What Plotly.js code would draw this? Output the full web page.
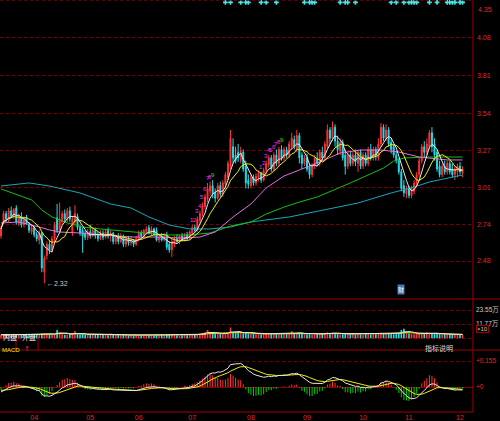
<!DOCTYPE html>
<html><head><meta charset="utf-8">
<script src="https://cdn.plot.ly/plotly-3.0.1.min.js"></script>
<style>html,body{margin:0;padding:0;background:#000;}#chart{width:500px;height:421px;}</style>
</head><body><div id="chart"></div>
<script>
// ---- daily OHLC ----
const opens = [
2.66,2.76,2.82,2.77,2.84,2.80,2.86,2.75,2.80,2.74,
2.79,2.74,2.69,2.72,2.67,2.63,2.68,2.40,2.52,2.60,
2.56,2.64,2.79,2.70,2.76,2.82,2.78,2.84,2.68,2.76,
2.80,2.72,2.70,2.68,2.65,2.69,2.66,2.70,2.67,2.64,
2.68,2.65,2.70,2.66,2.68,2.62,2.66,2.62,2.66,2.60,
2.64,2.61,2.63,2.60,2.64,2.68,2.66,2.69,2.72,2.68,
2.71,2.70,2.63,2.66,2.63,2.67,2.60,2.56,2.60,2.64,
2.62,2.66,2.63,2.67,2.64,2.68,2.72,2.70,2.77,2.82,
2.87,2.92,2.98,3.02,2.97,2.93,3.02,2.96,3.03,3.08,
3.16,3.30,3.24,3.26,3.20,3.26,3.16,3.06,3.02,3.08,
3.04,3.08,3.11,3.06,3.13,3.17,3.22,3.14,3.24,3.18,
3.28,3.22,3.28,3.24,3.30,3.35,3.28,3.38,3.24,3.18,
3.22,3.16,3.10,3.16,3.22,3.18,3.26,3.22,3.30,3.42,
3.36,3.44,3.34,3.27,3.33,3.24,3.16,3.24,3.18,3.24,
3.18,3.26,3.16,3.24,3.18,3.28,3.22,3.28,3.22,3.32,
3.44,3.36,3.42,3.33,3.30,3.24,3.20,3.12,3.02,2.96,
3.00,2.95,2.98,3.04,3.10,3.20,3.30,3.26,3.30,3.40,
3.32,3.26,3.16,3.10,3.16,3.12,3.18,3.14,3.10,3.12,
3.16,3.11];
const highs = [
2.73,2.84,2.84,2.86,2.87,2.86,2.88,2.82,2.83,2.80,
2.81,2.76,2.74,2.73,2.69,2.70,2.69,2.52,2.62,2.63,
2.66,2.76,2.89,2.90,2.84,2.85,2.86,2.87,2.80,2.88,
2.82,2.74,2.72,2.70,2.71,2.74,2.72,2.72,2.69,2.70,
2.70,2.71,2.72,2.70,2.69,2.67,2.68,2.68,2.67,2.66,
2.66,2.66,2.64,2.66,2.70,2.70,2.71,2.73,2.74,2.73,
2.72,2.72,2.67,2.68,2.68,2.69,2.62,2.64,2.66,2.67,
2.67,2.68,2.68,2.69,2.70,2.74,2.74,2.80,2.84,2.90,
2.96,3.04,3.05,3.06,3.00,3.04,3.05,3.06,3.12,3.20,
3.42,3.36,3.30,3.32,3.30,3.28,3.20,3.10,3.10,3.10,
3.11,3.13,3.12,3.15,3.20,3.24,3.24,3.26,3.28,3.30,
3.31,3.30,3.30,3.34,3.40,3.38,3.42,3.40,3.26,3.24,
3.25,3.18,3.18,3.24,3.26,3.28,3.30,3.34,3.46,3.44,
3.48,3.46,3.38,3.36,3.35,3.28,3.26,3.27,3.26,3.28,
3.28,3.28,3.26,3.26,3.30,3.32,3.30,3.30,3.36,3.47,
3.46,3.46,3.44,3.36,3.32,3.27,3.22,3.14,3.06,3.02,
3.02,3.02,3.06,3.12,3.22,3.32,3.34,3.36,3.42,3.44,
3.36,3.28,3.20,3.18,3.20,3.20,3.20,3.18,3.16,3.18,
3.19,3.16];
const lows = [
2.64,2.74,2.76,2.76,2.79,2.78,2.74,2.73,2.72,2.72,
2.74,2.68,2.67,2.65,2.62,2.60,2.40,2.32,2.49,2.53,
2.54,2.62,2.68,2.68,2.74,2.76,2.76,2.76,2.66,2.74,
2.70,2.66,2.54,2.63,2.63,2.64,2.65,2.64,2.62,2.63,
2.63,2.64,2.64,2.62,2.60,2.60,2.60,2.61,2.58,2.58,
2.59,2.59,2.58,2.59,2.62,2.64,2.65,2.67,2.67,2.66,
2.66,2.62,2.61,2.62,2.62,2.56,2.54,2.51,2.58,2.61,
2.60,2.62,2.62,2.63,2.63,2.66,2.68,2.69,2.75,2.80,
2.85,2.90,2.95,2.93,2.90,2.92,2.94,2.94,3.00,3.06,
3.14,3.18,3.18,3.19,3.18,3.12,3.00,3.00,3.00,3.02,
3.02,3.05,3.04,3.05,3.10,3.15,3.12,3.12,3.16,3.16,
3.20,3.20,3.22,3.22,3.28,3.28,3.26,3.18,3.14,3.16,
3.12,3.07,3.08,3.14,3.16,3.16,3.20,3.20,3.28,3.32,
3.34,3.30,3.24,3.24,3.20,3.10,3.14,3.16,3.16,3.16,
3.12,3.14,3.14,3.16,3.16,3.20,3.20,3.20,3.20,3.30,
3.34,3.34,3.30,3.25,3.22,3.18,3.10,2.98,2.94,2.93,
2.93,2.93,2.96,3.02,3.08,3.18,3.22,3.24,3.28,3.26,
3.20,3.12,3.08,3.08,3.10,3.10,3.10,3.08,3.06,3.08,
3.10,3.08];
const closes = [
2.71,2.82,2.78,2.84,2.80,2.85,2.76,2.80,2.74,2.78,
2.75,2.70,2.72,2.67,2.64,2.68,2.43,2.50,2.60,2.56,
2.64,2.74,2.70,2.78,2.82,2.78,2.84,2.78,2.78,2.82,
2.72,2.68,2.66,2.65,2.69,2.66,2.70,2.66,2.64,2.68,
2.65,2.69,2.66,2.68,2.62,2.65,2.62,2.66,2.60,2.64,
2.61,2.63,2.60,2.64,2.68,2.66,2.70,2.71,2.68,2.71,
2.67,2.63,2.65,2.63,2.66,2.58,2.56,2.62,2.64,2.62,
2.66,2.63,2.67,2.64,2.69,2.72,2.70,2.78,2.82,2.88,
2.94,3.00,3.02,2.96,2.93,3.02,2.96,3.04,3.10,3.18,
3.36,3.22,3.20,3.22,3.27,3.14,3.04,3.03,3.08,3.04,
3.09,3.11,3.06,3.13,3.18,3.22,3.14,3.24,3.18,3.28,
3.22,3.28,3.24,3.32,3.36,3.30,3.38,3.22,3.18,3.22,
3.14,3.10,3.16,3.22,3.18,3.26,3.22,3.32,3.42,3.36,
3.44,3.34,3.28,3.33,3.22,3.16,3.24,3.18,3.24,3.19,
3.26,3.16,3.24,3.18,3.28,3.22,3.28,3.24,3.32,3.44,
3.36,3.42,3.32,3.28,3.24,3.20,3.12,3.00,2.97,3.00,
2.95,3.00,3.04,3.10,3.20,3.30,3.26,3.32,3.40,3.30,
3.24,3.14,3.10,3.16,3.12,3.18,3.12,3.10,3.14,3.16,
3.12,3.14];
// volume in 万
const volumes = [
3.0,3.4,2.8,3.2,2.6,3.0,3.6,3.2,2.8,3.0,2.6,3.2,3.4,3.0,3.6,3.2,
4.0,4.2,3.8,3.4,3.0,3.6,7.0,5.0,
3.4,3.0,3.2,3.6,4.0,6.0,3.4,3.2,
3.6,3.2,3.0,2.8,3.4,3.0,2.8,3.2,3.6,3.0,2.6,4.0,3.2,2.8,3.0,2.6,
2.8,3.0,2.6,2.8,2.6,3.0,2.8,2.6,3.2,2.8,2.6,3.0,2.4,2.8,2.6,2.8,
2.6,3.0,2.8,3.2,2.8,2.6,2.4,2.6,2.8,2.6,3.0,3.2,2.8,3.6,4.0,4.4,
5.0,7.0,4.6,4.0,3.6,4.2,3.8,4.0,4.4,4.6,9.0,5.2,4.8,4.4,4.6,4.2,
4.8,4.0,3.6,3.8,3.4,3.6,3.4,3.8,4.0,4.2,3.6,4.0,3.8,4.2,3.6,4.0,
3.6,4.4,6.0,4.0,4.4,4.6,3.8,3.6,3.4,3.8,3.4,3.6,3.8,3.4,3.8,4.2,
5.0,4.0,4.6,4.2,3.8,3.4,3.6,4.0,3.6,3.4,3.6,3.2,3.6,3.4,3.2,3.6,
3.8,3.4,3.6,3.4,4.2,4.6,4.0,4.4,4.0,3.6,3.4,3.8,4.6,7.0,8.0,4.6,
4.0,3.6,3.4,3.8,4.2,4.6,4.0,5.0,4.4,4.2,3.8,4.0,3.6,3.4,3.6,3.2,
3.4,3.0,3.2,3.6,3.2,3.0];

// long moving averages (day index -> value)
const maPinkIdx = [0,7,15,19,23,31,39,52,61,70,78,84,91,98,104,111,117,125,133,141,149,156,164,175,181];
const maPinkVal = [2.753,2.760,2.724,2.703,2.688,2.681,2.667,2.652,2.652,2.645,2.652,2.688,2.796,2.889,3.004,3.090,3.133,3.190,3.255,3.276,3.276,3.262,3.226,3.205,3.205];
const maGreenIdx = [0,7,12,16,20,26,32,39,52,65,74,82,90,98,104,111,117,124,137,150,154,158,168,181];
const maGreenVal = [2.997,2.954,2.918,2.846,2.796,2.753,2.724,2.710,2.688,2.667,2.667,2.681,2.731,2.760,2.817,2.867,2.903,2.939,3.040,3.147,3.197,3.219,3.226,3.226];
const maTealIdx = [0,11,19,31,43,51,58,66,74,82,90,98,113,126,140,153,162,168,175,181];
const maTealVal = [3.018,3.040,3.018,2.968,2.889,2.860,2.796,2.738,2.710,2.710,2.724,2.760,2.796,2.846,2.896,2.968,3.011,3.047,3.075,3.097];

// signal crosses on the top edge (day indices)
const signalIdx = [88,90,94,96,97,102,104,108,119,121,122,123,133,135,136,139,153,155,158,160,161,162,163,168,171,175,176,177,178,180,181];
const signalLevel = 4.335;
// sequence counts above candles
const tdIdx = [75,76,77,78,79,80,81,82,83,102,103,104,105,106,107,108,109,110];
const tdText = ['1','2','3','4','5','6','7','8','9','1','2','3','4','5','6','7','8','9'];
const lowIdx = 17;
const lowText = '←2.32';
const finIdx = [157];

const monthTickIdx = [13,35,54,75,98,120,142,160,180];
const monthTickText = ['04','05','06','07','08','09','10','11','12'];
const priceTicks = [2.48,2.74,3.01,3.27,3.54,3.81,4.08,4.35];
const volTicks = [0,11.77,23.55];
const volTickText = ['','11.77万','23.55万'];
const macdTicks = [0,0.155];
const macdTickText = ['+0','+0.155'];
const macdInitDif = -0.03, macdInitDea = -0.02;

// ---- derived ----
const N = closes.length;
const idx = closes.map((_, i) => i);
function sma(a, n){ return a.map((_, i) => { const s = Math.max(0, i-n+1); let t=0; for(let j=s;j<=i;j++) t+=a[j]; return t/(i-s+1); }); }
const ma5 = sma(closes,5), ma10 = sma(closes,10);
const vma5 = sma(volumes,5), vma10 = sma(volumes,10);
let e12 = closes[0], e26 = closes[0]-macdInitDif;
const dif=[macdInitDif], dea=[macdInitDea], hist=[2*(macdInitDif-macdInitDea)];
for(let i=1;i<N;i++){
  e12 = e12*11/13 + closes[i]*2/13;
  e26 = e26*25/27 + closes[i]*2/27;
  const d = e12-e26; const e = dea[i-1]*0.8 + d*0.2;
  dif.push(d); dea.push(e); hist.push(2*(d-e));
}
const RED='#ff3232', CYAN='#22dde8', GRID='#7a0000', SEP='#a00000';
const upDown = closes.map((c,i)=> c>=opens[i]);
const volColors = upDown.map(u => u?RED:CYAN);

const traces = [
 {type:'candlestick', x:idx, open:opens, high:highs, low:lows, close:closes, xaxis:'x', yaxis:'y',
  increasing:{line:{color:RED,width:1},fillcolor:RED}, decreasing:{line:{color:CYAN,width:1},fillcolor:CYAN}, whiskerwidth:0, hoverinfo:'skip'},
 {type:'scatter', mode:'lines', x:maTealIdx, y:maTealVal, line:{color:'#16a8b8',width:1}, hoverinfo:'skip'},
 {type:'scatter', mode:'lines', x:maGreenIdx, y:maGreenVal, line:{color:'#10c010',width:1}, hoverinfo:'skip'},
 {type:'scatter', mode:'lines', x:maPinkIdx, y:maPinkVal, line:{color:'#e070e0',width:1}, hoverinfo:'skip'},
 {type:'scatter', mode:'lines', x:idx, y:ma10, line:{color:'#f0f000',width:1}, hoverinfo:'skip'},
 {type:'scatter', mode:'lines', x:idx, y:ma5, line:{color:'#e8e8e8',width:1}, hoverinfo:'skip'},
 {type:'scatter', mode:'markers', x:signalIdx, y:signalIdx.map(()=>signalLevel), marker:{symbol:'cross',size:4,color:'#40e8e8'}, hoverinfo:'skip'},
 {type:'bar', x:idx, y:volumes, yaxis:'y2', marker:{color:volColors,line:{width:0}}, width:0.65, hoverinfo:'skip'},
 {type:'scatter', mode:'lines', x:idx, y:vma10, yaxis:'y2', line:{color:'#f0f000',width:1}, hoverinfo:'skip'},
 {type:'scatter', mode:'lines', x:idx, y:vma5, yaxis:'y2', line:{color:'#e8e8e8',width:1}, hoverinfo:'skip'},
 {type:'bar', x:idx, y:hist, yaxis:'y3', marker:{color:hist.map(h=>h>=0?RED:'#00c800'),line:{width:0}}, width:0.4, hoverinfo:'skip'},
 {type:'scatter', mode:'lines', x:idx, y:dea, yaxis:'y3', line:{color:'#f0f000',width:1}, hoverinfo:'skip'},
 {type:'scatter', mode:'lines', x:idx, y:dif, yaxis:'y3', line:{color:'#e8e8e8',width:1}, hoverinfo:'skip'}
];

const H=412, W=473;
const py = p => (H-p)/H;   // pixel row -> paper y
const px = p => p/W;       // pixel col -> paper x
const FONT='Liberation Sans, Noto Sans CJK SC';
const annos = [];
tdIdx.forEach((d,k)=>annos.push({x:d, y:highs[d], xref:'x', yref:'y', text:tdText[k], showarrow:false, yanchor:'bottom', yshift:0,
  font:{size:6,color: tdText[k]==='9' ? '#10e010' : '#ff30ff', family:'Liberation Sans'}}));
annos.push({x:lowIdx, y:lows[lowIdx], xref:'x', yref:'y', text:lowText, showarrow:false, xanchor:'left', xshift:1, font:{size:7,color:'#c8c8c8',family:'Liberation Sans'}});
finIdx.forEach(d=>annos.push({x:d, y:py(295), xref:'x', yref:'paper', text:'财', showarrow:false, bgcolor:'#4a74b4', borderpad:0, font:{size:6,color:'#fff',family:'Noto Sans CJK SC'}}));
annos.push({x:0, y:py(355), xref:'paper', yref:'paper', text:'MACD', showarrow:false, xanchor:'left', font:{size:6,color:'#f0f000',family:'Liberation Sans'}});
annos.push({x:px(22), y:py(355), xref:'paper', yref:'paper', text:'↑', showarrow:false, xanchor:'left', font:{size:7,color:RED,family:'DejaVu Sans'}});
annos.push({x:px(455), y:py(355), xref:'paper', yref:'paper', text:'指标说明', showarrow:false, font:{size:7,color:'#d8d8d8',family:'Noto Sans CJK SC'}});
annos.push({x:px(1), y:py(344), xref:'paper', yref:'paper', text:'内盘', showarrow:false, xanchor:'left', font:{size:7,color:'#e8e8e8',family:'Noto Sans CJK SC'}});
annos.push({x:px(20), y:py(344), xref:'paper', yref:'paper', text:'外盘', showarrow:false, xanchor:'left', font:{size:7,color:'#e8e8e8',family:'Noto Sans CJK SC'}});
annos.push({x:px(476), y:py(333), xref:'paper', yref:'paper', text:'×10', showarrow:false, xanchor:'left', bordercolor:SEP, borderwidth:1, borderpad:0, font:{size:6,color:'#c0c0c0',family:'Liberation Sans'}});
annos.push({x:px(476), y:py(4), xref:'paper', yref:'paper', text:'4.35', showarrow:false, xanchor:'left', font:{size:7,color:'#e02828',family:'Liberation Sans'}});

const shapes = [
 {type:'line', xref:'paper', yref:'paper', x0:1, x1:1, y0:0, y1:1, line:{color:SEP,width:1}},
 {type:'line', xref:'paper', yref:'paper', x0:0, x1:500/W, y0:py(299), y1:py(299), line:{color:SEP,width:1}},
 {type:'line', xref:'paper', yref:'paper', x0:0, x1:500/W, y0:py(350), y1:py(350), line:{color:SEP,width:1}},
 {type:'line', xref:'paper', yref:'paper', x0:0, x1:1, y0:0, y1:0, line:{color:SEP,width:1}},
 {type:'line', xref:'paper', yref:'paper', x0:px(16), x1:px(16), y0:py(338), y1:py(350), line:{color:SEP,width:1}},
 {type:'line', xref:'paper', yref:'paper', x0:px(38), x1:px(38), y0:py(338), y1:py(350), line:{color:SEP,width:1}}
];

const tickFont = {size:7,color:'#e02828',family:'Liberation Sans'};
const layout = {
 width:500, height:421, margin:{l:0,r:27,t:0,b:9,pad:0},
 paper_bgcolor:'#000', plot_bgcolor:'#000', showlegend:false, boxgap:0.45, bargap:0.3,
 xaxis:{range:[-0.392,185.1], anchor:'y3', tickmode:'array', tickvals:monthTickIdx, ticktext:monthTickText, tickfont:tickFont,
   showgrid:false, zeroline:false, showline:false, ticks:'', ticklabelstandoff:0, rangeslider:{visible:false}, fixedrange:true},
 yaxis:{domain:[py(299),1], range:[2.2077,4.352], side:'right', anchor:'x', tickmode:'array', tickvals:priceTicks.slice(0,-1),
   ticktext:priceTicks.slice(0,-1).map(v=>v.toFixed(2)), tickfont:tickFont, showgrid:true, gridcolor:GRID, griddash:'dot', gridwidth:1,
   zeroline:false, ticks:'', ticklabelstandoff:3},
 yaxis2:{domain:[py(350),py(299)], range:[-9.7,32.7], side:'right', anchor:'x', tickmode:'array', tickvals:volTicks, ticktext:volTickText,
   tickfont:{size:6.5,color:'#c8c8c8',family:FONT}, showgrid:true, gridcolor:GRID, griddash:'dot', zeroline:false, ticks:'', ticklabelstandoff:2},
 yaxis3:{domain:[0,py(350)], range:[-0.149,0.2206], side:'right', anchor:'x', tickmode:'array', tickvals:macdTicks, ticktext:macdTickText,
   tickfont:{size:6.5,color:'#e02828',family:'Liberation Sans'}, showgrid:true, gridcolor:GRID, griddash:'dot', zeroline:true, zerolinecolor:'#8a0000', zerolinewidth:1, ticks:'', ticklabelstandoff:2},
 annotations:annos, shapes:shapes
};
// the top gridline for the 4.35 level
shapes.push({type:'line', xref:'paper', yref:'y', x0:0, x1:1, y0:priceTicks[priceTicks.length-1], y1:priceTicks[priceTicks.length-1], line:{color:GRID,width:1,dash:'dot'}});
Plotly.newPlot('chart', traces, layout, {staticPlot:true, displayModeBar:false});
</script>
</body></html>
